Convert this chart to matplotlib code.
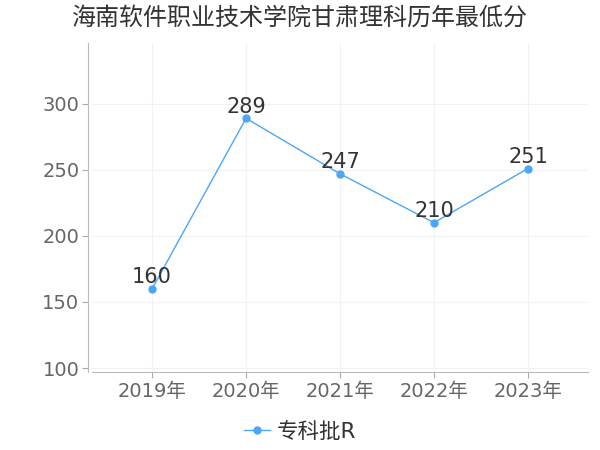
import numpy as np
import matplotlib.pyplot as plt

plt.rcParams['font.family'] = ['DejaVu Sans', 'Noto Sans CJK SC']

years = ["2019年", "2020年", "2021年", "2022年", "2023年"]
scores = [160, 289, 247, 210, 251]
series_name = "专科批R"
title = "海南软件职业技术学院甘肃理科历年最低分"

fig = plt.figure(figsize=(6, 4.5), dpi=100)
ax = fig.add_axes([92/600, 1 - 372/450, (588 - 92)/600, (372 - 43)/450])

x = np.arange(len(years))
ax.plot(x, scores, color="#4da6f5", lw=1, marker="o", ms=5, label=series_name)
for xi, v in zip(x, scores):
    ax.annotate(str(v), (xi, v), xytext=(0, 1), textcoords="offset points",
                ha="center", va="bottom", fontsize=15, color="#333333")

ax.set_xlim(-0.64, 4.64)
ax.set_ylim(97, 346)
ax.set_yticks([100, 150, 200, 250, 300])
ax.set_xticks(x)
ax.set_xticklabels(years)
ax.tick_params(axis="both", colors="#aaaaaa", labelcolor="#666666", labelsize=14, length=4)
ax.tick_params(axis="y", pad=2)
ax.grid(True, color="#f2f2f2", lw=0.8)
ax.set_axisbelow(True)
for s in ["top", "right"]:
    ax.spines[s].set_visible(False)
ax.spines["left"].set_color("#bbbbbb")
ax.spines["bottom"].set_color("#bbbbbb")
ax.spines["left"].set_position(("outward", 3))

fig.text(72/600, 1 - 18/450, title, fontsize=17.3, color="#333333", va="center", ha="left")
fig.legend(loc="center", bbox_to_anchor=(0.5, 1 - 432/450), frameon=False,
           fontsize=15.5, labelcolor="#333333", handlelength=1.2, handletextpad=0.3)

fig.savefig("out.png", dpi=100)
